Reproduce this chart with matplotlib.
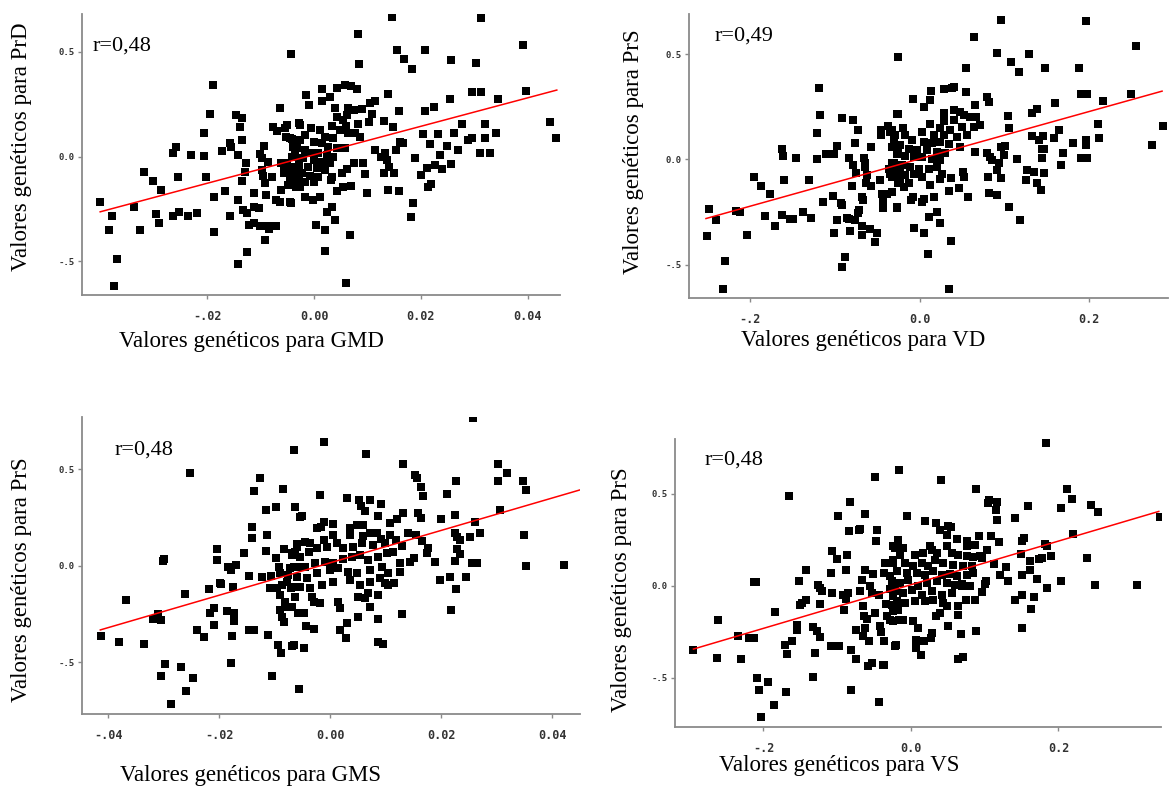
import numpy as np
import matplotlib
matplotlib.use("Agg")
import matplotlib.pyplot as plt

# ---- data (genetic values) ----
gmd_prd = [
    (-0.040, -0.218), (-0.0378, -0.283), (-0.0384, -0.350), (-0.0368, -0.486), (-0.0375, -0.616),
    (-0.0337, -0.239), (-0.0325, -0.350), (-0.0318, -0.073), (-0.0301, -0.115), (-0.0296, -0.274),
    (-0.0290, -0.317), (-0.0287, -0.159), (-0.0264, 0.016), (-0.0258, 0.045), (-0.0255, -0.096),
    (-0.0263, -0.283), (-0.0252, -0.264), (-0.0236, -0.283), (-0.0231, 0.008), (-0.0219, -0.267),
    (-0.0206, 0.111), (-0.0206, 0.003), (-0.0203, -0.096), (-0.0189, 0.341), (-0.0195, 0.202),
    (-0.0187, -0.191), (-0.0187, -0.358), (-0.0173, 0.029), (-0.0167, -0.164), (-0.0157, 0.064),
    (-0.0156, 0.045), (-0.0157, -0.283), (-0.0146, 0.199), (-0.0135, 0.183), (-0.0138, 0.140),
    (-0.0135, 0.080), (-0.0143, 0.008), (-0.0142, -0.207), (-0.0143, -0.513), (-0.0127, -0.032),
    (-0.0130, -0.072), (-0.0135, -0.116), (-0.0132, -0.255), (-0.0126, -0.271), (-0.0122, -0.325),
    (-0.0125, -0.457), (-0.0113, -0.175), (-0.0112, -0.239), (-0.0112, -0.318), (-0.0103, -0.247),
    (-0.0102, -0.330), (-0.0093, 0.051), (-0.0102, 0.013), (-0.0098, -0.008), (-0.0098, -0.064),
    (-0.0096, -0.091), (-0.0092, -0.127), (-0.0090, -0.181), (-0.0092, -0.398), (-0.0087, -0.330),
    (-0.0085, -0.347), (-0.0079, -0.096), (-0.0086, -0.024), (-0.0072, -0.331), (-0.0076, 0.143),
    (-0.0070, 0.124), (-0.0064, 0.231), (-0.0071, -0.207), (-0.0064, -0.215), (-0.0062, -0.159),
    (-0.0062, -0.032), (-0.0057, -0.080), (-0.0054, 0.135), (-0.0050, 0.151), (-0.0052, 0.096),
    (-0.0045, 0.088), (-0.0045, -0.218), (-0.0044, 0.489), (-0.0048, -0.135), (-0.0039, 0.048),
    (-0.0037, -0.048), (-0.0034, -0.143), (-0.0032, -0.080), (-0.0029, -0.008), (-0.0029, 0.159),
    (-0.0042, 0.000), (-0.0036, 0.024), (-0.0051, -0.032), (-0.0039, -0.080), (-0.0029, -0.111),
    (-0.0051, -0.080), (-0.0057, -0.048),
    (0.0145, 0.669), (0.0313, 0.661), (0.0082, 0.584), (0.0156, 0.509), (0.0207, 0.509),
    (0.0169, 0.466), (0.0085, 0.441), (0.0183, 0.419), (0.0256, 0.460), (0.0303, 0.446),
    (0.0390, 0.532), (0.0139, 0.301), (0.0295, 0.307), (0.0313, 0.307), (0.0396, 0.314),
    (0.0254, 0.274), (0.0344, 0.274), (0.0224, 0.237), (0.0207, 0.218), (0.0158, 0.218),
    (0.0131, 0.170), (0.0147, 0.140), (0.0276, 0.154), (0.0319, 0.154), (0.0442, 0.167),
    (0.0453, 0.088), (0.0341, 0.115), (0.0319, 0.088), (0.0295, 0.088), (0.0288, 0.080),
    (0.0262, 0.115), (0.0232, 0.107), (0.0204, 0.107), (0.0216, 0.059), (0.0248, 0.051),
    (0.0270, 0.032), (0.0311, 0.016), (0.0330, 0.016), (0.0235, 0.008), (0.0189, -0.005),
    (0.0256, -0.033), (0.0226, -0.040), (0.0212, -0.053), (0.0240, -0.060), (0.0200, -0.088),
    (0.0219, -0.131), (0.0213, -0.143), (0.0186, -0.220), (0.0181, -0.290), (0.0158, -0.164),
    (0.0139, -0.159), (0.0150, -0.080), (0.0131, -0.080), (0.0141, -0.048), (0.0153, 0.032),
    (0.0161, 0.072), (0.0167, 0.064), (0.0126, 0.000), (0.0133, 0.016), (0.0136, -0.016),
    (0.0114, 0.032), (0.0099, -0.172), (0.0095, -0.083), (0.0092, -0.032), (0.0074, -0.032),
    (0.0062, -0.060), (0.0052, -0.080), (0.0070, -0.138), (0.0055, -0.146), (0.0042, -0.164),
    (0.0033, -0.096), (0.0031, -0.111), (0.0034, -0.242), (0.0024, -0.263), (0.0040, -0.302),
    (0.0004, -0.325), (0.0021, -0.350), (0.0021, -0.449), (0.0068, -0.374), (0.0060, -0.602),
    (0.0011, -0.191), (-0.0002, -0.207), (-0.0017, -0.191), (-0.0039, -0.135), (-0.0043, -0.220),
    (0.0042, 0.330), (0.0057, 0.342), (0.0070, 0.339), (0.0080, 0.322), (0.0015, 0.322),
    (0.0029, 0.287), (0.0015, 0.266), (-0.0015, 0.295), (-0.0009, 0.245), (0.0039, 0.231),
    (0.0064, 0.231), (0.0074, 0.223), (0.0089, 0.226), (0.0105, 0.255), (0.0114, 0.267),
    (0.0108, 0.202), (0.0061, 0.199), (0.0042, 0.188), (0.0055, 0.175), (0.0102, 0.167),
    (0.0083, 0.154), (0.0033, 0.146), (0.0060, 0.146), (-0.0026, 0.151), (-0.0006, 0.138),
    (0.0011, 0.127), (0.0049, 0.127), (0.0064, 0.111), (0.0077, 0.111), (0.0086, 0.096),
    (-0.0017, 0.103), (0.0021, 0.096), (0.0036, 0.088), (-0.0042, 0.083), (-0.0026, 0.080),
    (-0.0001, 0.072), (0.0014, 0.064), (0.0027, 0.048), (0.0042, 0.040), (0.0058, 0.040),
    (-0.0032, 0.040), (-0.0017, 0.032), (-0.0007, 0.019), (0.0008, 0.016), (0.0024, 0.008),
    (0.0036, 0.000), (-0.0035, 0.000), (-0.0020, -0.008), (-0.0001, -0.016), (0.0014, -0.024),
    (0.0030, -0.029), (-0.0029, -0.040), (-0.0011, -0.048), (0.0005, -0.056), (0.0021, -0.064),
    (-0.0041, -0.064), (-0.0022, -0.080), (-0.0007, -0.091), (0.0008, -0.096), (-0.0032, -0.104),
    (-0.0017, -0.119), (-0.0001, -0.119), (-0.0026, -0.143), (-0.0045, -0.111),
]
gmd_fit_x = [-0.040, 0.0454]
gmd_fit_y = [-0.263, 0.318]

vd_prs = [
    (-0.251, -0.365), (-0.248, -0.235), (-0.240, -0.290), (-0.230, -0.484), (-0.232, -0.616),
    (-0.216, -0.244), (-0.212, -0.249), (-0.204, -0.360), (-0.195, -0.083), (-0.187, -0.124),
    (-0.182, -0.270), (-0.176, -0.165), (-0.170, -0.317), (-0.162, 0.049), (-0.161, 0.016),
    (-0.160, -0.097), (-0.162, -0.262), (-0.153, -0.283), (-0.149, -0.283), (-0.146, 0.008),
    (-0.137, -0.252), (-0.130, -0.097), (-0.128, -0.278), (-0.119, 0.340), (-0.118, 0.210),
    (-0.121, 0.125), (-0.121, 0.000), (-0.114, -0.200), (-0.110, 0.027), (-0.101, 0.027),
    (-0.097, 0.063), (-0.102, -0.173), (-0.101, -0.352), (-0.097, -0.290), (-0.091, 0.195),
    (-0.078, 0.187), (-0.073, 0.138), (-0.076, 0.076), (-0.083, 0.008), (-0.079, -0.025),
    (-0.075, -0.062), (-0.080, -0.124), (-0.093, -0.206), (-0.091, -0.217), (-0.088, -0.463),
    (-0.091, -0.511), (-0.086, -0.278), (-0.083, -0.283), (-0.082, -0.340), (-0.076, -0.289),
    (-0.073, -0.257), (-0.072, -0.241), (-0.068, -0.178), (-0.067, -0.194), (-0.068, -0.317),
    (-0.068, -0.360), (-0.059, -0.333), (-0.053, -0.394), (-0.050, -0.352), (-0.066, 0.008),
    (-0.064, -0.016), (-0.064, -0.035), (-0.062, -0.075), (-0.063, -0.111), (-0.057, 0.060),
    (-0.057, -0.124), (-0.047, -0.098), (-0.044, -0.162), (-0.038, -0.162), (-0.043, -0.202),
    (-0.043, -0.233), (-0.046, 0.140), (-0.046, 0.116), (-0.037, 0.159), (-0.035, 0.132),
    (-0.032, 0.140), (-0.030, 0.092), (-0.027, 0.216), (-0.026, 0.486), (-0.027, -0.229),
    (-0.036, -0.043), (-0.032, -0.019), (-0.035, -0.067), (-0.029, -0.051), (-0.026, -0.090),
    (-0.025, 0.029), (-0.023, -0.035), (-0.025, -0.114),
    (0.0964, 0.663), (0.196, 0.659), (0.0637, 0.584), (0.0913, 0.505), (0.129, 0.500),
    (0.108, 0.462), (0.0551, 0.437), (0.117, 0.416), (0.148, 0.437), (0.188, 0.437),
    (0.255, 0.541), (0.0795, 0.298), (0.0822, 0.275), (0.190, 0.311), (0.198, 0.311),
    (0.249, 0.311), (0.160, 0.270), (0.216, 0.278), (0.139, 0.238), (0.133, 0.222),
    (0.104, 0.208), (0.0649, 0.257), (0.0669, 0.203), (0.105, 0.148), (0.165, 0.140),
    (0.210, 0.171), (0.287, 0.159), (0.274, 0.070), (0.212, 0.103), (0.196, 0.092),
    (0.196, 0.071), (0.181, 0.076), (0.158, 0.103), (0.146, 0.111), (0.133, 0.111),
    (0.141, 0.092), (0.144, 0.049), (0.147, 0.049), (0.169, 0.029), (0.167, -0.027),
    (0.190, 0.008), (0.197, 0.008), (0.144, 0.008), (0.147, -0.062), (0.115, 0.002),
    (0.127, -0.048), (0.135, -0.059), (0.126, -0.098), (0.139, -0.114), (0.143, -0.143),
    (0.106, -0.225), (0.119, -0.289), (0.0964, -0.090), (0.0913, -0.048), (0.0913, -0.170),
    (0.0822, -0.159), (0.0807, -0.083), (0.0795, 0.029), (0.0834, 0.013), (0.0854, -0.003),
    (0.0933, -0.016), (0.0964, 0.060), (0.101, 0.063), (0.100, 0.021), (0.0649, 0.035),
    (0.0567, -0.178), (0.0512, -0.059), (0.0528, -0.083), (0.0464, -0.138), (0.0374, -0.090),
    (0.0342, -0.151), (0.0264, -0.067), (0.0236, -0.095), (0.0170, -0.178), (0.0205, -0.249),
    (0.0107, -0.276), (0.0244, -0.302), (-0.0063, -0.325), (0.0048, -0.352), (0.0374, -0.387),
    (0.0102, -0.448), (0.0342, -0.616), (0.0048, -0.186), (0.0028, -0.202), (-0.0098, -0.194),
    (-0.0078, -0.178), (-0.0267, -0.225), (-0.0326, -0.157),
    (0.0284, 0.333), (0.0382, 0.338), (0.040, 0.343), (0.0551, 0.321), (0.0134, 0.327),
    (0.0118, 0.283), (0.0048, 0.248), (-0.0078, 0.290), (0.0284, 0.222), (0.0480, 0.227),
    (0.0527, 0.211), (0.040, 0.235), (0.0598, 0.203), (0.040, 0.190), (0.0284, 0.184),
    (0.0716, 0.163), (0.0637, 0.156), (0.0500, 0.156), (0.0362, 0.140), (0.0236, 0.151),
    (-0.0259, 0.214), (-0.0196, 0.152), (0.0126, 0.171), (0.0028, 0.132), (0.0165, 0.116),
    (0.0284, 0.116), (0.0441, 0.108), (0.0559, 0.116), (-0.0169, 0.116), (-0.0287, 0.116),
    (-0.0090, 0.092), (0.0048, 0.084), (0.0146, 0.076), (0.0244, 0.084), (0.0342, 0.073),
    (0.0480, 0.060), (-0.0228, 0.068), (-0.0326, 0.060), (-0.0130, 0.048), (-0.0031, 0.044),
    (0.0087, 0.044), (0.0205, 0.037), (0.0303, 0.029), (-0.0267, 0.025), (-0.0169, 0.016),
    (-0.0070, 0.013), (0.0028, 0.010), (0.0146, 0.000), (0.0244, -0.003), (-0.0306, -0.019),
    (-0.0208, -0.027), (-0.0110, -0.035), (-0.0011, -0.043), (0.0107, -0.043), (0.0205, -0.035),
    (-0.0267, -0.059), (-0.0169, -0.075), (-0.0070, -0.067), (0.0028, -0.083), (-0.0228, -0.098),
    (-0.0130, -0.114), (-0.0189, -0.130), (0.0126, -0.122), (-0.0326, -0.083),
]
vd_fit_x = [-0.252, 0.286]
vd_fit_y = [-0.281, 0.325]

gms_prs = [
    (-0.0413, -0.366), (-0.0381, -0.397), (-0.0368, -0.179), (-0.0335, -0.407), (-0.0320, -0.276),
    (-0.0311, -0.252), (-0.0305, -0.284), (-0.0302, 0.024), (-0.0300, 0.033), (-0.0305, -0.574),
    (-0.0298, -0.510), (-0.0286, -0.717), (-0.0268, -0.526), (-0.0261, -0.148), (-0.0260, -0.648),
    (-0.0247, -0.581), (-0.0252, 0.481), (-0.0240, -0.333), (-0.0227, -0.372), (-0.0218, -0.122),
    (-0.0216, -0.243), (-0.0210, -0.221), (-0.0209, -0.310), (-0.0203, 0.086), (-0.0204, 0.029),
    (-0.0199, -0.088), (-0.0196, -0.097), (-0.0184, -0.005), (-0.0179, -0.022), (-0.0170, 0.003),
    (-0.0175, -0.109), (-0.0185, -0.234), (-0.0174, -0.247), (-0.0173, -0.286), (-0.0179, -0.502),
    (-0.0176, -0.367), (-0.0156, 0.064), (-0.0146, -0.052), (-0.0141, 0.202), (-0.0140, 0.145),
    (-0.0137, 0.388), (-0.0147, -0.333), (-0.0137, -0.333), (-0.0126, 0.457), (-0.0123, -0.057),
    (-0.0116, 0.288), (-0.0114, 0.159), (-0.0116, 0.078), (-0.0112, -0.359), (-0.0105, -0.574),
    (-0.0107, -0.052), (-0.0109, -0.117), (-0.0097, 0.305), (-0.0097, 0.038), (-0.0094, -0.410),
    (-0.0088, -0.453), (-0.0085, 0.400), (-0.0083, 0.086), (-0.0093, -0.005), (-0.0090, -0.040),
    (-0.0096, -0.117), (-0.0087, -0.100), (-0.0090, -0.152), (-0.0081, -0.186), (-0.0091, -0.229),
    (-0.0087, -0.264), (-0.0083, -0.290), (-0.0078, -0.083), (-0.0077, -0.212), (-0.0076, -0.048),
    (-0.0071, -0.117), (-0.0069, 0.067), (-0.0066, 0.602), (-0.0063, 0.305), (-0.0063, -0.160),
    (-0.0066, -0.410), (-0.0060, 0.110), (-0.0057, -0.640), (-0.0057, -0.005), (-0.0058, -0.247),
    (-0.0054, 0.253), (-0.0066, -0.109), (-0.0072, -0.014),
    (-0.0012, 0.641), (0.0258, 0.766), (0.0065, 0.578), (0.0132, 0.529), (0.0302, 0.529),
    (0.0318, 0.483), (0.0153, 0.469), (0.0156, 0.455), (0.0227, 0.440), (0.0302, 0.440),
    (0.0347, 0.440), (0.0352, 0.391), (0.0163, 0.409), (0.0168, 0.360), (0.0210, 0.374),
    (-0.0018, 0.369), (0.0031, 0.352), (0.0052, 0.343), (0.0072, 0.340), (0.0055, 0.309),
    (0.0062, 0.283), (0.0091, 0.319), (-0.0063, 0.302), (-0.0051, 0.257), (0.0087, 0.257),
    (0.0132, 0.271), (0.0159, 0.271), (0.0163, 0.245), (0.0200, 0.240), (0.0225, 0.262),
    (0.0261, 0.228), (0.0306, 0.288), (0.0107, 0.222), (0.0120, 0.240), (-0.0024, 0.197),
    (-0.0017, 0.202), (-0.0012, 0.228), (0.0006, 0.216), (-0.0045, 0.124), (-0.0063, 0.072),
    (-0.0069, 0.055), (0.0006, 0.159), (0.0036, 0.197), (0.0035, 0.159), (0.0048, 0.210),
    (0.0060, 0.210), (0.0059, 0.153), (0.0072, 0.167), (0.0085, 0.167), (0.0091, 0.136),
    (0.0108, 0.159), (0.0119, 0.133), (0.0141, 0.167), (0.0155, 0.159), (0.0129, 0.102),
    (0.0166, 0.128), (0.0177, 0.090), (0.0174, 0.064), (0.0224, 0.171), (0.0228, 0.147),
    (0.0233, 0.133), (0.0251, 0.150), (0.0270, 0.167), (0.0228, 0.084), (0.0234, 0.060),
    (0.0225, 0.024), (0.0189, 0.021), (0.0151, 0.041), (0.0144, 0.021), (0.0126, 0.016),
    (0.0126, -0.034), (0.0115, -0.091), (0.0104, -0.100), (0.0087, -0.152), (0.0072, -0.212),
    (0.0051, -0.264), (0.0087, -0.278), (0.0129, -0.252), (0.0255, 0.012), (0.0264, 0.012),
    (0.0350, 0.159), (0.0352, -0.002), (0.0422, 0.005), (0.0197, -0.074), (0.0216, -0.057),
    (0.0245, -0.057), (0.0227, -0.122), (0.0217, -0.229), (0.0063, -0.169), (0.0051, -0.160),
    (0.0015, -0.186), (0.0018, -0.221), (0.0017, -0.333), (0.0030, -0.295), (0.0029, -0.376),
    (0.0087, -0.397), (0.0096, -0.407), (-0.0018, -0.191), (-0.0033, -0.160), (-0.0048, -0.247),
    (-0.0043, -0.312), (-0.0029, -0.326), (-0.0069, -0.414), (-0.0048, -0.428),
    (-0.0060, 0.098), (-0.0036, 0.116), (-0.0012, 0.133), (-0.0054, 0.047), (-0.0039, 0.072),
    (-0.0024, 0.090), (-0.0006, 0.098), (0.0012, 0.116), (0.0024, 0.090), (0.0042, 0.098),
    (0.0057, 0.116), (0.0078, 0.107), (0.0099, 0.116), (-0.0066, -0.005), (-0.0045, -0.005),
    (-0.0027, 0.012), (-0.0009, 0.021), (0.0006, 0.012), (0.0024, 0.033), (0.0039, 0.047),
    (0.0054, 0.055), (0.0069, 0.029), (0.0087, 0.047), (0.0102, 0.064), (0.0114, 0.072),
    (-0.0060, -0.057), (-0.0042, -0.066), (-0.0024, -0.040), (0.0000, -0.022), (0.0015, -0.014),
    (0.0033, -0.031), (0.0048, -0.040), (0.0072, -0.022), (0.0093, -0.005), (0.0105, -0.040),
    (-0.0054, -0.109), (-0.0036, -0.117), (-0.0015, -0.100), (0.0006, -0.083), (0.0036, -0.074),
    (0.0054, -0.100), (0.0072, -0.083), (0.0090, -0.066), (0.0099, -0.091), (-0.0063, -0.160),
    (-0.0030, -0.186), (0.0069, -0.143), (-0.0069, -0.212),
]
gms_fit_x = [-0.0414, 0.0450]
gms_fit_y = [-0.333, 0.393]

vs_prs = [
    (-0.295, -0.351), (-0.262, -0.184), (-0.263, -0.392), (-0.235, -0.271), (-0.230, -0.398),
    (-0.219, -0.286), (-0.213, -0.286), (-0.213, 0.020), (-0.210, 0.020), (-0.209, -0.503),
    (-0.206, -0.568), (-0.204, -0.712), (-0.194, -0.521), (-0.186, -0.649), (-0.184, -0.143),
    (-0.171, -0.320), (-0.168, -0.369), (-0.170, -0.577), (-0.166, 0.488), (-0.162, -0.298),
    (-0.154, -0.213), (-0.154, -0.242), (-0.152, 0.027), (-0.151, -0.107), (-0.148, -0.094),
    (-0.142, -0.076), (-0.142, 0.083), (-0.133, -0.495), (-0.133, -0.224), (-0.127, -0.244),
    (-0.130, -0.365), (-0.124, -0.278), (-0.126, 0.002), (-0.123, -0.013), (-0.120, -0.031),
    (-0.123, -0.099), (-0.109, -0.329), (-0.109, 0.069), (-0.107, 0.190), (-0.107, -0.040),
    (-0.100, 0.145), (-0.099, 0.380), (-0.097, -0.329), (-0.092, -0.049), (-0.091, -0.134),
    (-0.088, -0.071), (-0.087, 0.165), (-0.088, 0.083), (-0.085, -0.040), (-0.084, 0.295),
    (-0.083, 0.456), (-0.082, -0.568), (-0.081, -0.351), (-0.075, -0.239), (-0.075, -0.398),
    (-0.071, 0.304), (-0.069, 0.307), (-0.069, -0.027), (-0.067, 0.029), (-0.065, -0.112),
    (-0.065, -0.271), (-0.064, -0.166), (-0.062, 0.389), (-0.062, 0.083), (-0.062, -0.230),
    (-0.060, -0.181), (-0.058, -0.438), (-0.053, -0.420), (-0.057, -0.298), (-0.055, -0.004),
    (-0.053, -0.040), (-0.052, 0.063), (-0.049, 0.590), (-0.049, -0.148), (-0.048, 0.244),
    (-0.046, 0.304), (-0.044, -0.633), (-0.043, -0.052), (-0.042, -0.221), (-0.038, -0.432),
    (-0.037, -0.429), (-0.041, -0.252), (-0.037, -0.298), (-0.037, 0.069), (-0.035, 0.123),
    (-0.034, -0.099), (-0.032, -0.166), (-0.029, 0.051), (-0.029, -0.016), (-0.028, -0.184),
    (-0.025, 0.213), (-0.022, 0.204), (-0.021, -0.324), (-0.019, -0.094), (-0.019, 0.078),
    (-0.018, -0.134), (-0.017, 0.246), (-0.016, 0.629), (-0.016, -0.184), (-0.024, 0.141),
    (-0.022, -0.004), (-0.024, -0.058),
    (0.183, 0.774), (0.0403, 0.575), (0.0882, 0.526), (0.212, 0.526), (0.218, 0.470),
    (0.106, 0.467), (0.104, 0.448), (0.116, 0.456), (0.159, 0.430), (0.204, 0.421),
    (0.244, 0.438), (0.254, 0.398), (0.115, 0.409), (0.116, 0.358), (0.141, 0.365),
    (-0.0050, 0.380), (0.0190, 0.349), (0.0339, 0.340), (0.0394, 0.304), (0.0507, 0.326),
    (0.0543, 0.316), (0.0484, 0.277), (0.0620, 0.253), (0.0923, 0.268), (0.109, 0.268),
    (0.219, 0.282), (0.337, 0.373), (0.119, 0.235), (0.150, 0.241), (0.153, 0.259),
    (0.0765, 0.241), (0.0765, 0.217), (0.0869, 0.219), (0.103, 0.195), (0.149, 0.172),
    (0.182, 0.226), (0.185, 0.213), (0.190, 0.163), (0.177, 0.150), (0.173, 0.145),
    (0.238, 0.150), (0.161, 0.132), (0.0937, 0.159), (0.113, 0.118), (0.129, 0.099),
    (0.162, 0.083), (0.121, 0.060), (0.131, 0.027), (0.151, 0.060), (0.171, 0.036),
    (0.185, -0.014), (0.204, 0.027), (0.249, 0.004), (0.306, 0.004), (0.151, -0.052),
    (0.141, -0.076), (0.167, -0.061), (0.163, -0.127), (0.151, -0.230), (0.102, 0.024),
    (0.100, 0.011), (0.0959, -0.036), (0.0869, -0.076), (0.0747, -0.076), (0.0688, -0.004),
    (0.0688, 0.009), (0.0643, -0.108), (0.0643, -0.157), (0.0493, -0.112), (0.0507, -0.221),
    (0.0394, -0.148), (0.0339, -0.166), (0.0679, -0.260), (0.0882, -0.248), (0.0290, -0.257),
    (0.0271, -0.284), (0.0176, -0.302), (0.0068, -0.293), (0.0068, -0.338), (0.0136, -0.374),
    (-0.0217, -0.326), (0.0643, -0.396), (0.0701, -0.389), (0.0023, -0.193), (0.0100, -0.230),
    (-0.0113, -0.184), (-0.0240, -0.193), (-0.0240, -0.139),
    (-0.0195, 0.213), (-0.0104, 0.204), (-0.0149, 0.168), (0.0054, 0.168), (0.0167, 0.177),
    (0.0258, 0.217), (0.0281, 0.195), (0.0348, 0.177), (0.0484, 0.217), (0.0552, 0.177),
    (0.0643, 0.168), (0.0756, 0.159), (0.0846, 0.156), (-0.0240, 0.123), (-0.0081, 0.123),
    (0.0032, 0.105), (0.0145, 0.123), (0.0235, 0.105), (0.0326, 0.141), (0.0439, 0.123),
    (0.0575, 0.114), (0.0710, 0.105), (0.0824, 0.105), (0.0959, 0.150), (-0.0195, 0.078),
    (-0.0059, 0.069), (0.0077, 0.069), (0.0190, 0.060), (0.0303, 0.078), (0.0416, 0.060),
    (0.0529, 0.065), (0.0620, 0.051), (0.0756, 0.060), (0.0846, 0.069), (-0.0262, 0.024),
    (-0.0149, 0.014), (-0.0036, 0.033), (0.0100, -0.004), (0.0213, 0.014), (0.0348, 0.024),
    (0.0484, 0.014), (0.0597, 0.005), (0.0801, -0.004), (-0.0217, -0.031), (-0.0104, -0.040),
    (0.0009, -0.022), (0.0145, -0.049), (0.0281, -0.031), (0.0416, -0.049), (0.0552, -0.040),
    (-0.0195, -0.085), (-0.0081, -0.094), (0.0054, -0.085), (0.0190, -0.085), (0.0303, -0.076),
    (0.0439, -0.094), (-0.0262, -0.103),
]
vs_fit_x = [-0.295, 0.336]
vs_fit_y = [-0.344, 0.403]

r_labels = ["r=0,48", "r=0,49", "r=0,48", "r=0,48"]
x_titles = ["Valores genéticos para GMD", "Valores genéticos para VD",
            "Valores genéticos para GMS", "Valores genéticos para VS"]
y_titles = ["Valores genéticos para PrD", "Valores genéticos para PrS",
            "Valores genéticos para PrS", "Valores genéticos para PrS"]
y_ticks = [0.5, 0.0, -0.5]
y_ticklabels = ["0.5", "0.0", "-.5"]
small_ticks = [-0.04, -0.02, 0.0, 0.02, 0.04]
small_ticklabels = ["-.04", "-.02", "0.00", "0.02", "0.04"]
big_ticks = [-0.2, 0.0, 0.2]
big_ticklabels = ["-.2", "0.0", "0.2"]

# ---- layout (pixels of the 1169x789 image) ----
W, H = 1169, 789
fig = plt.figure(figsize=(W / 100, H / 100), dpi=100)
fig.patch.set_facecolor("white")

serif = "Liberation Serif"
mono = "DejaVu Sans Mono"
spine_col = "#8a8a8a"


def box(l, t, r, b):
    return [l / W, 1 - b / H, (r - l) / W, (b - t) / H]


panels = [
    # data, fit x, fit y, axes box, xlim, ylim, ticks, r pos, xlabel pos, ylabel pos
    (gmd_prd, gmd_fit_x, gmd_fit_y, box(82, 14, 560, 295), (-0.0434, 0.046), (-0.660, 0.681),
     (small_ticks[1:], small_ticklabels[1:]), (93, 46), (251, 342), (22, 147)),
    (vd_prs, vd_fit_x, vd_fit_y, box(689, 14, 1168, 298), (-0.272, 0.293), (-0.659, 0.692),
     (big_ticks, big_ticklabels), (715, 36), (863, 340), (633, 152)),
    (gms_prs, gms_fit_x, gms_fit_y, box(82, 417, 580, 714), (-0.0447, 0.045), (-0.769, 0.771),
     (small_ticks, small_ticklabels), (115, 450), (250, 776), (22, 580)),
    (vs_prs, vs_fit_x, vs_fit_y, box(675, 439, 1161, 727), (-0.320, 0.339), (-0.767, 0.796),
     (big_ticks, big_ticklabels), (705, 460), (839, 766), (622, 590)),
]

for i, (pts, fx, fy, rect, xlim, ylim, xt, rpos, xlpos, ylpos) in enumerate(panels):
    ax = fig.add_axes(rect)
    pts = np.array(pts)
    ax.scatter(pts[:, 0], pts[:, 1], marker="s", s=26, color="black", linewidths=0, zorder=3)
    ax.plot(fx, fy, color="red", lw=1.1, zorder=4)
    ax.set_xlim(*xlim)
    ax.set_ylim(*ylim)
    for side in ("top", "right"):
        ax.spines[side].set_visible(False)
    for side in ("left", "bottom"):
        ax.spines[side].set_color(spine_col)
        ax.spines[side].set_linewidth(1.3)
    ax.set_xticks(xt[0])
    ax.set_xticklabels(xt[1], fontfamily=mono, fontsize=8.5, fontweight="bold", color="#333333")
    ax.set_yticks(y_ticks)
    ax.set_yticklabels(y_ticklabels, fontfamily=mono, fontsize=6.5, fontweight="bold",
                       color="#333333")
    ax.tick_params(axis="both", direction="out", length=3, width=1, color=spine_col)
    ax.tick_params(axis="x", pad=8)
    ax.tick_params(axis="y", pad=2)

    fig.text(rpos[0] / W, 1 - rpos[1] / H, r_labels[i], family=serif, fontsize=16,
             ha="left", va="center")
    fig.text(xlpos[0] / W, 1 - xlpos[1] / H, x_titles[i], family=serif, fontsize=16.5,
             ha="center", va="center")
    fig.text(ylpos[0] / W, 1 - ylpos[1] / H, y_titles[i], family=serif, fontsize=16.5,
             ha="center", va="center", rotation=90)

fig.savefig("out.png", dpi=100, facecolor="white")
